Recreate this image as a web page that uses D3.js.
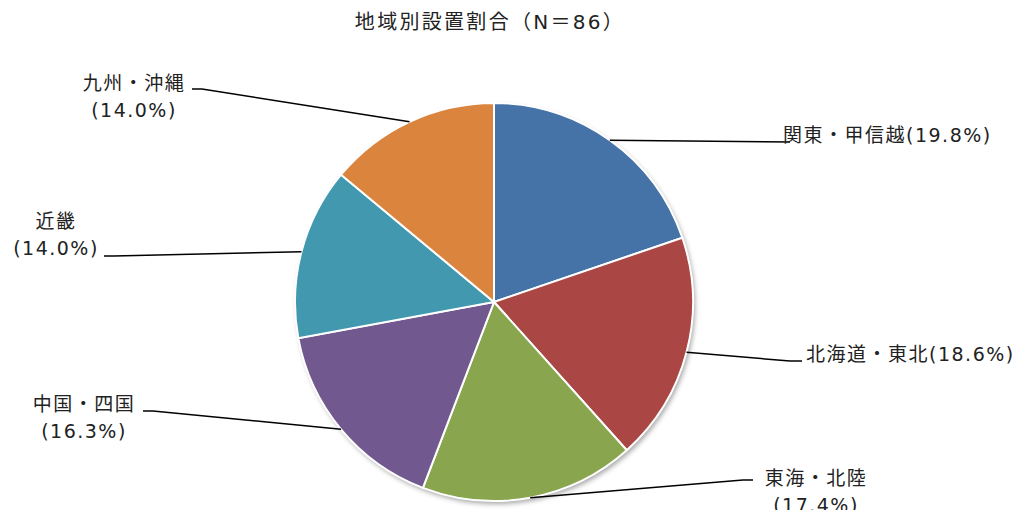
<!DOCTYPE html>
<html>
<head>
<meta charset="utf-8">
<style>
  body{ margin:0; background:#fff; }
  text{ font-family:"DejaVu Sans","Noto Sans CJK JP",sans-serif; fill:#222; }
</style>
</head>
<body>
<svg class="pie" width="1027" height="510"></svg>

<script src="https://d3js.org/d3.v7.min.js"></script>
<script>
    // データ（N=86）
    const regions = ['関東・甲信越', '北海道・東北', '東海・北陸', '中国・四国', '近畿', '九州・沖縄']
    const counts = [17, 16, 15, 14, 12, 12]
    const percents = ['19.8%', '18.6%', '17.4%', '16.3%', '14.0%', '14.0%']
    const colors = ['#4572A7', '#AA4643', '#89A54E', '#71588F', '#4198AF', '#DB843D']

    // ラベル配置（引き出し線の終点と文字の位置）
    const labelLayout = [
      {end:[780,142], stub:10,  lines:[regions[0] + '(' + percents[0] + ')'], x:783, y:135, anchor:'start'},
      {end:[802,361], stub:-12, lines:[regions[1] + '(' + percents[1] + ')'], x:806, y:354, anchor:'start'},
      {end:[753,480], stub:-10, lines:[regions[2], '(' + percents[2] + ')'], x:816, y:478, anchor:'middle'},
      {end:[143,411], stub:10,  lines:[regions[3], '(' + percents[3] + ')'], x:84, y:404, anchor:'middle'},
      {end:[104,256], stub:10,  lines:[regions[4], '(' + percents[4] + ')'], x:56, y:221, anchor:'middle'},
      {end:[192,89],  stub:10,  lines:[regions[5], '(' + percents[5] + ')'], x:134, y:83, anchor:'middle'}
    ]

    const svg = d3.select('.pie')
    const cx = 494, cy = 302, r = 199

    // タイトル
    svg.append('text')
       .attr('x', 490)
       .attr('y', 22)
       .attr('text-anchor', 'middle')
       .attr('dominant-baseline', 'central')
       .attr('font-size', 20)
       .attr('letter-spacing', 2.3)
       .text('地域別設置割合（N＝86）')

    // 影
    const defs = svg.append('defs')
    const f = defs.append('filter').attr('id', 'shadow')
                  .attr('x', '-10%').attr('y', '-10%').attr('width', '120%').attr('height', '120%')
    f.append('feDropShadow')
     .attr('dx', 2).attr('dy', 3).attr('stdDeviation', 2.5)
     .attr('flood-color', '#000').attr('flood-opacity', 0.35)

    const pie = d3.pie()
                  .value(d => d)
                  .sort(null)

    const arcs = pie(counts)

    const arc = d3.arc()
                  .innerRadius(0)
                  .outerRadius(r)

    const g = svg.append('g')
                 .attr('transform', `translate(${cx},${cy})`)

    g.append('circle')
     .attr('r', r)
     .attr('fill', '#fff')
     .attr('filter', 'url(#shadow)')

    g.selectAll('path')
     .data(arcs)
     .join('path')
     .attr('d', arc)
     .attr('fill', (d, i) => colors[i])
     .attr('stroke', '#fff')
     .attr('stroke-width', 2)

    // 引き出し線とラベル
    arcs.forEach((d, i) => {
      const L = labelLayout[i]
      const mid = (d.startAngle + d.endAngle) / 2
      const p0 = [cx + r * Math.sin(mid), cy - r * Math.cos(mid)]
      const pts = [p0, [L.end[0] + L.stub, L.end[1]], L.end]
      svg.append('path')
         .attr('d', d3.line()(pts))
         .attr('fill', 'none')
         .attr('stroke', '#000')
         .attr('stroke-width', 1.5)

      const t = svg.append('text')
                   .attr('text-anchor', L.anchor)
                   .attr('font-size', 19)
                   .attr('letter-spacing', 1.5)
      L.lines.forEach((s, j) => {
        t.append('tspan')
         .attr('x', L.x)
         .attr('y', L.y + j * 27)
         .attr('dominant-baseline', 'central')
         .text(s)
      })
    })
</script>
</body>
</html>
